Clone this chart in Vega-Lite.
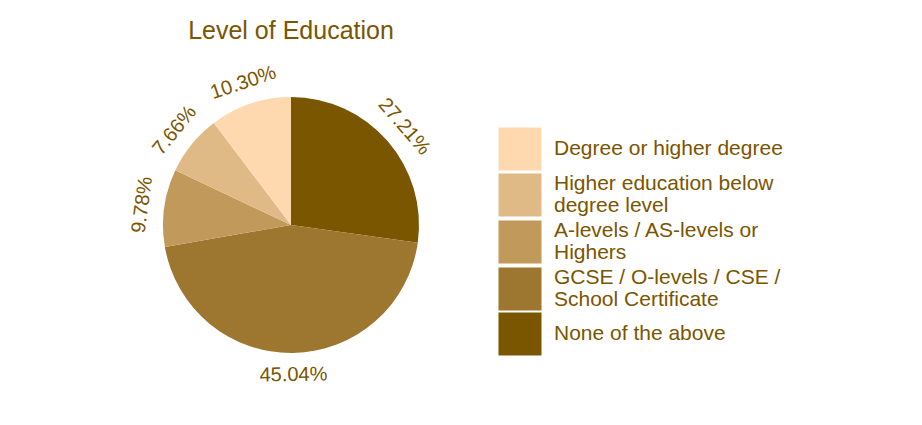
{
  "$schema": "https://vega.github.io/schema/vega-lite/v6.json",
  "width": 582,
  "height": 344,
  "padding": {"top": 19, "left": 0, "right": 0, "bottom": 0},
  "background": "white",
  "title": {"text": "Level of Education", "fontSize": 25, "font": "Liberation Sans", "fontWeight": "normal", "color": "#7a5500", "offset": 9, "anchor": "middle"},
  "data": {"values": [
    {"level": "None of the above", "pct": 0.2721},
    {"level": "GCSE / O-levels / CSE / School Certificate", "pct": 0.4504},
    {"level": "A-levels / AS-levels or Highers", "pct": 0.0978},
    {"level": "Higher education below degree level", "pct": 0.0766},
    {"level": "Degree or higher degree", "pct": 0.1030}
  ]},
  "transform": [
    {"window": [{"op": "row_number", "as": "idx"}, {"op": "sum", "field": "pct", "as": "cum"}], "frame": [null, 0]},
    {"calculate": "(datum.cum - datum.pct / 2) * 360", "as": "mid"},
    {"calculate": "datum.mid > 90 && datum.mid < 270 ? datum.mid - 180 : datum.mid", "as": "labelAngle"}
  ],
  "layer": [
    {
      "mark": {"type": "arc", "outerRadius": 128, "stroke": null},
      "encoding": {
        "theta": {"field": "pct", "type": "quantitative", "stack": true},
        "order": {"field": "idx", "type": "quantitative"},
        "color": {
          "field": "level", "type": "nominal",
          "scale": {
            "domain": ["Degree or higher degree", "Higher education below degree level", "A-levels / AS-levels or Highers", "GCSE / O-levels / CSE / School Certificate", "None of the above"],
            "range": ["#fed9b0", "#dfba86", "#c19a5b", "#9d762f", "#7a5600"]
          },
          "legend": {
            "title": null,
            "orient": "none",
            "legendX": 498,
            "legendY": 74,
            "values": ["Degree or higher degree"],
            "symbolType": "square",
            "symbolSize": 1850,
            "symbolStrokeWidth": 0,
            "symbolOpacity": 1,
            "rowPadding": 3,
            "labelOffset": 12,
            "labelFontSize": 21,
            "labelFont": "Liberation Sans",
            "labelColor": "#7a5500",
            "labelLimit": 400
          }
        }
      }
    },
    {
      "mark": {"type": "arc", "outerRadius": 128, "stroke": null, "opacity": 0},
      "encoding": {
        "theta": {"field": "pct", "type": "quantitative", "stack": true},
        "order": {"field": "idx", "type": "quantitative"},
        "color": {
          "field": "level", "type": "nominal",
          "scale": {
            "domain": ["Degree or higher degree", "Higher education below degree level", "A-levels / AS-levels or Highers", "GCSE / O-levels / CSE / School Certificate", "None of the above"],
            "range": ["#fed9b0", "#dfba86", "#c19a5b", "#9d762f", "#7a5600"]
          },
          "legend": {
            "title": null,
            "orient": "none",
            "legendX": 498,
            "legendY": 120,
            "values": ["Higher education below degree level", "A-levels / AS-levels or Highers", "GCSE / O-levels / CSE / School Certificate"],
            "symbolType": "square",
            "symbolSize": 1850,
            "symbolStrokeWidth": 0,
            "symbolOpacity": 1,
            "rowPadding": 3,
            "labelOffset": 12,
            "labelFontSize": 21,
            "labelFont": "Liberation Sans",
            "labelColor": "#7a5500",
            "labelLimit": 400,
            "labelBaseline": "line-bottom",
            "labelExpr": "datum.label == 'Higher education below degree level' ? ['Higher education below', 'degree level'] : datum.label == 'A-levels / AS-levels or Highers' ? ['A-levels / AS-levels or', 'Highers'] : datum.label == 'GCSE / O-levels / CSE / School Certificate' ? ['GCSE / O-levels / CSE /', 'School Certificate'] : datum.label"
          }
        }
      }
    },
    {
      "mark": {"type": "arc", "outerRadius": 128, "stroke": null, "opacity": 0},
      "encoding": {
        "theta": {"field": "pct", "type": "quantitative", "stack": true},
        "order": {"field": "idx", "type": "quantitative"},
        "color": {
          "field": "level", "type": "nominal",
          "scale": {
            "domain": ["Degree or higher degree", "Higher education below degree level", "A-levels / AS-levels or Highers", "GCSE / O-levels / CSE / School Certificate", "None of the above"],
            "range": ["#fed9b0", "#dfba86", "#c19a5b", "#9d762f", "#7a5600"]
          },
          "legend": {
            "title": null,
            "orient": "none",
            "legendX": 498,
            "legendY": 259,
            "values": ["None of the above"],
            "symbolType": "square",
            "symbolSize": 1850,
            "symbolStrokeWidth": 0,
            "symbolOpacity": 1,
            "rowPadding": 3,
            "labelOffset": 12,
            "labelFontSize": 21,
            "labelFont": "Liberation Sans",
            "labelColor": "#7a5500",
            "labelLimit": 400
          }
        }
      }
    },
    {
      "mark": {"type": "text", "radius": 150, "fontSize": 20, "font": "Liberation Sans", "color": "#7a5500", "align": "center", "baseline": "middle"},
      "encoding": {
        "theta": {"field": "pct", "type": "quantitative", "stack": true},
        "order": {"field": "idx", "type": "quantitative"},
        "text": {"field": "pct", "type": "quantitative", "format": ".2%"},
        "angle": {"field": "labelAngle", "type": "quantitative", "scale": null}
      }
    }
  ],
  "resolve": {"scale": {"color": "independent"}, "legend": {"color": "independent"}},
  "config": {"view": {"stroke": null}, "style": {"guide-label": {"lineHeight": 22}}}
}
